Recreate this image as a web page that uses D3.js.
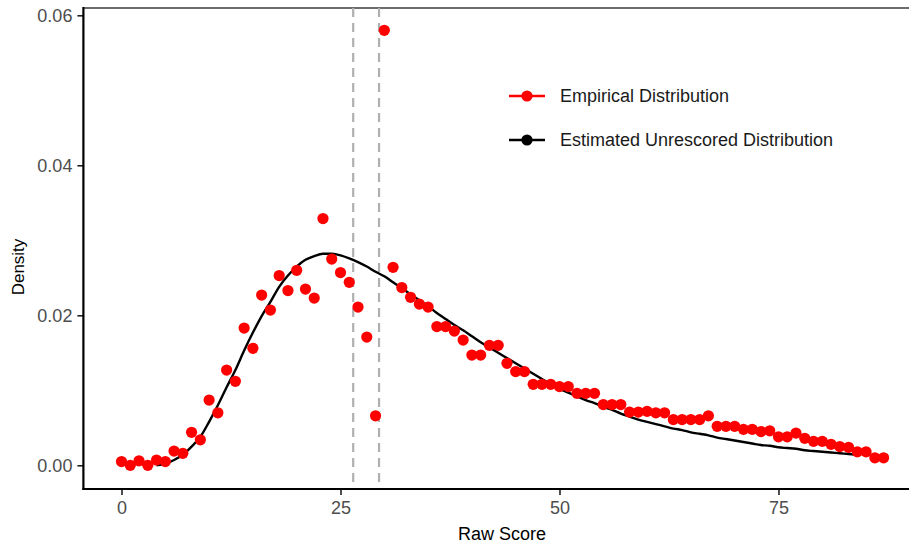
<!DOCTYPE html>
<html><head><meta charset="utf-8">
<script src="https://cdn.jsdelivr.net/npm/d3@7"></script>
<style>body{margin:0;background:#fff}svg{display:block}text{font-family:"Liberation Sans",Arial,sans-serif}</style>
</head><body><svg id="c" width="909" height="543"></svg>
<script>
const empX = d3.range(0, 88);
const empY = [0.0005,0.0000,0.0006,0.0000,0.0007,0.0005,0.0019,0.0016,0.0044,0.0034,
0.0087,0.0070,0.0127,0.0112,0.0183,0.0156,0.0227,0.0207,0.0253,0.0233,
0.0260,0.0235,0.0223,0.0329,0.0275,0.0257,0.0244,0.0211,0.0171,0.0066,
0.0580,0.0264,0.0237,0.0224,0.0215,0.0211,0.0185,0.0185,0.0179,0.0167,
0.0147,0.0147,0.0160,0.0160,0.0136,0.0125,0.0125,0.0108,0.0108,0.0108,
0.0105,0.0105,0.0096,0.0096,0.0096,0.0081,0.0081,0.0081,0.0071,0.0071,
0.0072,0.0070,0.0070,0.0061,0.0061,0.0061,0.0061,0.0066,0.0052,0.0052,
0.0052,0.0048,0.0048,0.0045,0.0046,0.0038,0.0038,0.0043,0.0036,0.0032,
0.0032,0.0028,0.0025,0.0024,0.0018,0.0018,0.0010,0.0010];
const estX = d3.range(4, 85);
const estY = [0.0000,0.0002,0.0007,0.0014,0.0025,0.0038,0.0058,0.0080,0.0104,0.0127,
0.0153,0.0177,0.0199,0.0218,0.0238,0.0253,0.0265,0.0274,0.0279,0.0282,
0.0282,0.0280,0.0276,0.0271,0.0265,0.0258,0.0252,0.0244,0.0236,0.0228,
0.0220,0.0212,0.0203,0.0195,0.0187,0.0180,0.0172,0.0164,0.0157,0.0150,
0.0143,0.0136,0.0129,0.0122,0.0115,0.0108,0.0102,0.0097,0.0092,0.0087,
0.0083,0.0078,0.0074,0.0069,0.0065,0.0061,0.0058,0.0055,0.0052,0.0049,
0.0047,0.0044,0.0042,0.0040,0.0037,0.0035,0.0033,0.0031,0.0029,0.0027,
0.0026,0.0024,0.0023,0.0022,0.0020,0.0019,0.0018,0.0017,0.0016,0.0015,0.0014];
const vLines = [26.45, 29.4];
const xTicks = [0, 25, 50, 75];
const yTicks = [0, 0.02, 0.04, 0.06];
const seriesNames = ["Empirical Distribution", "Estimated Unrescored Distribution"];
const seriesColors = ["#ff0000", "#000000"];

const svg = d3.select("#c");
const L = 83.4, R = 921.7, T = 8, B = 489;
const x = d3.scaleLinear().domain([-4.35, 91.35]).range([L, R]);
const y = d3.scaleLinear().domain([0, 0.06]).range([465.3, 15.3]);

// top border
svg.append("line").attr("x1", L).attr("x2", 909).attr("y1", T).attr("y2", T)
  .attr("stroke", "#6b6b6b").attr("stroke-width", 2);

// dashed lines
svg.selectAll(".vl").data(vLines).join("line")
  .attr("x1", d => x(d)).attr("x2", d => x(d)).attr("y1", T).attr("y2", B)
  .attr("stroke", "#b0b0b0").attr("stroke-width", 2.2).attr("stroke-dasharray", "9,6");

// estimated curve
const line = d3.line().x((d, i) => x(estX[i])).y(d => y(d)).curve(d3.curveMonotoneX);
svg.append("path").attr("d", line(estY)).attr("fill", "none")
  .attr("stroke", "#000").attr("stroke-width", 2.4);

// empirical points
svg.selectAll(".pt").data(empY).join("circle")
  .attr("cx", (d, i) => x(empX[i])).attr("cy", d => y(d)).attr("r", 5.6)
  .attr("fill", "#ff0000");

// axes
const xa = svg.append("g").attr("transform", `translate(0,${B})`)
  .call(d3.axisBottom(x).tickValues(xTicks).tickFormat(d3.format("d")).tickSize(6).tickPadding(6));
const ya = svg.append("g").attr("transform", `translate(${L},0)`)
  .call(d3.axisLeft(y).tickValues(yTicks).tickFormat(d3.format(".2f")).tickSize(6).tickPadding(5));
[xa, ya].forEach(g => {
  g.select(".domain").remove();
  g.selectAll(".tick line").attr("stroke", "#222").attr("stroke-width", 1.6);
  g.selectAll(".tick text").attr("fill", "#4d4d4d").style("font-size", "18px");
});
svg.append("line").attr("x1", L).attr("x2", L).attr("y1", T - 1).attr("y2", B + 1)
  .attr("stroke", "#000").attr("stroke-width", 2.2);
svg.append("line").attr("x1", L - 1).attr("x2", 909).attr("y1", B).attr("y2", B)
  .attr("stroke", "#000").attr("stroke-width", 2.2);

svg.append("text").attr("x", 502).attr("y", 540).attr("text-anchor", "middle")
  .style("font-size", "18px").attr("fill", "#000").text("Raw Score");
svg.append("text").attr("transform", "translate(24,267) rotate(-90)").attr("text-anchor", "middle")
  .style("font-size", "17px").attr("fill", "#000").text("Density");

// legend
const lg = svg.selectAll(".lg").data(seriesNames).join("g")
  .attr("transform", (d, i) => `translate(509,${96 + i * 44})`);
lg.append("line").attr("x1", 0).attr("x2", 36).attr("stroke", (d, i) => seriesColors[i]).attr("stroke-width", 2.4);
lg.append("circle").attr("cx", 18).attr("r", 5.6).attr("fill", (d, i) => seriesColors[i]);
lg.append("text").attr("x", 51).attr("dy", "0.35em").style("font-size", "18px").attr("fill", "#1a1a1a").text(d => d);
</script></body></html>
